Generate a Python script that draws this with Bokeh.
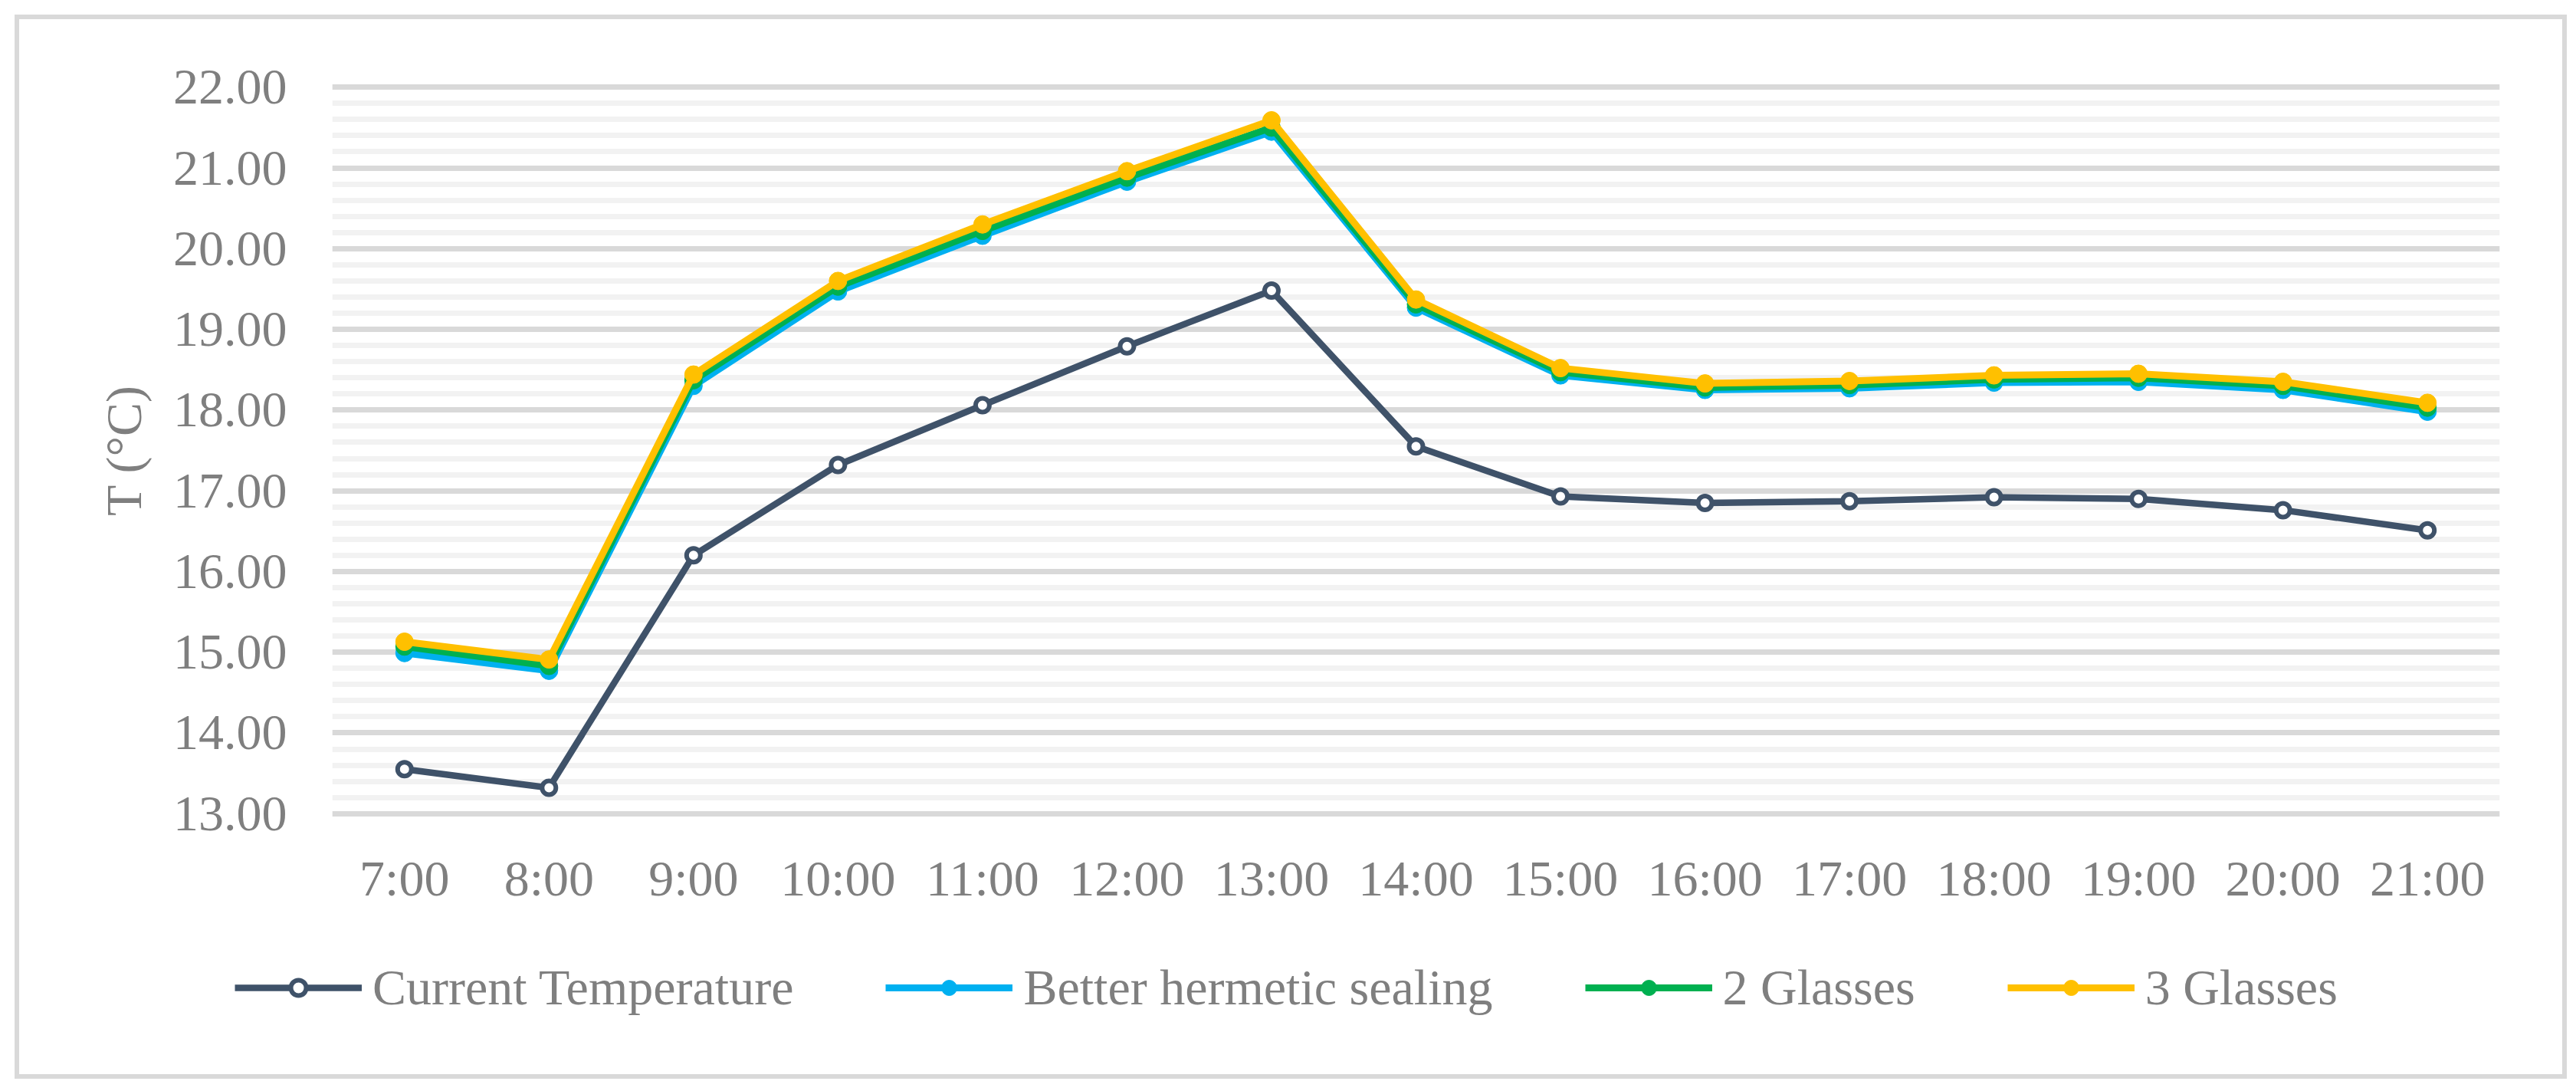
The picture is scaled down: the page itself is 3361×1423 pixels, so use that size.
from bokeh.plotting import figure
from bokeh.models import (ColumnDataSource, FactorRange, Range1d, SingleIntervalTicker,
                          Legend, LegendItem, NumeralTickFormatter)
from bokeh.layouts import column
from bokeh.embed import file_html
from bokeh.resources import INLINE

hours = ["7:00", "8:00", "9:00", "10:00", "11:00", "12:00", "13:00", "14:00",
         "15:00", "16:00", "17:00", "18:00", "19:00", "20:00", "21:00"]
current_temperature = [13.55, 13.32, 16.20, 17.32, 18.06, 18.79, 19.48, 17.55,
                       16.93, 16.85, 16.87, 16.92, 16.90, 16.76, 16.51]
better_hermetic_sealing = [14.99, 14.77, 18.30, 19.47, 20.16, 20.83, 21.45, 19.27,
                           18.43, 18.25, 18.27, 18.34, 18.35, 18.25, 17.98]
two_glasses = [15.07, 14.83, 18.37, 19.53, 20.22, 20.88, 21.50, 19.31,
               18.47, 18.28, 18.31, 18.38, 18.40, 18.30, 18.03]
three_glasses = [15.13, 14.91, 18.44, 19.60, 20.30, 20.96, 21.59, 19.37,
                 18.52, 18.33, 18.36, 18.43, 18.45, 18.35, 18.09]
series_names = ["Current Temperature", "Better hermetic sealing", "2 Glasses", "3 Glasses"]

FONT = "Liberation Serif"
TXT = "#7f7f7f"
C_CUR = "#3f5269"
C_BLUE = "#00b0f0"
C_GREEN = "#00b050"
C_GOLD = "#ffc000"

src = ColumnDataSource(dict(hour=hours, cur=current_temperature, seal=better_hermetic_sealing,
                            two=two_glasses, three=three_glasses))

W = 3318
MAIN_H = 1175
LEG_H = 201

p = figure(x_range=FactorRange(factors=hours, range_padding=0),
           y_range=Range1d(12.95, 22.05),
           width=W, height=MAIN_H, output_backend="svg", toolbar_location=None,
           min_border_left=408, min_border_right=82, min_border_top=83, min_border_bottom=134,
           background_fill_color="white", border_fill_color="white")
p.outline_line_color = None
p.frame_align = False

ticker = SingleIntervalTicker(interval=1, num_minor_ticks=5)
p.yaxis.ticker = ticker
p.ygrid.ticker = ticker
p.yaxis.formatter = NumeralTickFormatter(format="0.00")
p.xgrid.visible = False
p.ygrid.grid_line_color = "#d9d9d9"
p.ygrid.grid_line_width = 7
p.ygrid.minor_grid_line_color = "#f2f2f2"
p.ygrid.minor_grid_line_width = 7

for ax in (p.xaxis, p.yaxis):
    ax.axis_line_color = None
    ax.major_tick_line_color = None
    ax.minor_tick_line_color = None
    ax.major_tick_out = 0
    ax.minor_tick_out = 0
    ax.major_label_text_font = FONT
    ax.major_label_text_font_size = "66px"
    ax.major_label_text_color = TXT
p.yaxis.major_label_standoff = 59
p.xaxis.major_label_standoff = 42
p.yaxis.axis_label = "T (°C)"
p.yaxis.axis_label_text_font = FONT
p.yaxis.axis_label_text_font_size = "66px"
p.yaxis.axis_label_text_font_style = "normal"
p.yaxis.axis_label_text_color = TXT
p.yaxis.axis_label_standoff = 25

# legend figure: same series, drawn out of its (empty) view so that only the legend shows
q = figure(x_range=FactorRange(factors=hours, range_padding=0), y_range=Range1d(100, 101),
           width=W, height=LEG_H, output_backend="svg", toolbar_location=None,
           min_border=0, background_fill_color="white", border_fill_color="white")
q.outline_line_color = None
q.frame_align = False
q.axis.visible = False
q.grid.visible = False

items = []
specs = [("cur", C_CUR, True), ("seal", C_BLUE, False), ("two", C_GREEN, False), ("three", C_GOLD, False)]
for name, (col, color, hollow) in zip(series_names, specs):
    rs = []
    for fig in (p, q):
        r = fig.line("hour", col, source=src, line_color=color, line_width=8.5 if hollow else 9)
        if hollow:
            s = fig.scatter("hour", col, source=src, size=18, fill_color="white",
                            line_color=color, line_width=6)
        else:
            s = fig.scatter("hour", col, source=src, size=23, fill_color=color, line_color=color)
        rs.append((r, s))
    items.append(LegendItem(label=name, renderers=list(rs[1])))

legend = Legend(items=items, orientation="horizontal", location=(281, 75),
                label_text_font=FONT, label_text_font_size="66px", label_text_color=TXT,
                glyph_width=166, glyph_height=50, label_standoff=14, spacing=120,
                padding=0, margin=0, border_line_color=None, background_fill_alpha=0)
q.add_layout(legend)

layout = column(p, q, spacing=0, styles={"border": "6px solid #d9d9d9"})

template = """
{% block postamble %}
<style>
body { margin: 19px 0 0 19px !important; }
</style>
{% endblock %}
"""

open("out.html", "w").write(file_html(layout, INLINE, template=template))
